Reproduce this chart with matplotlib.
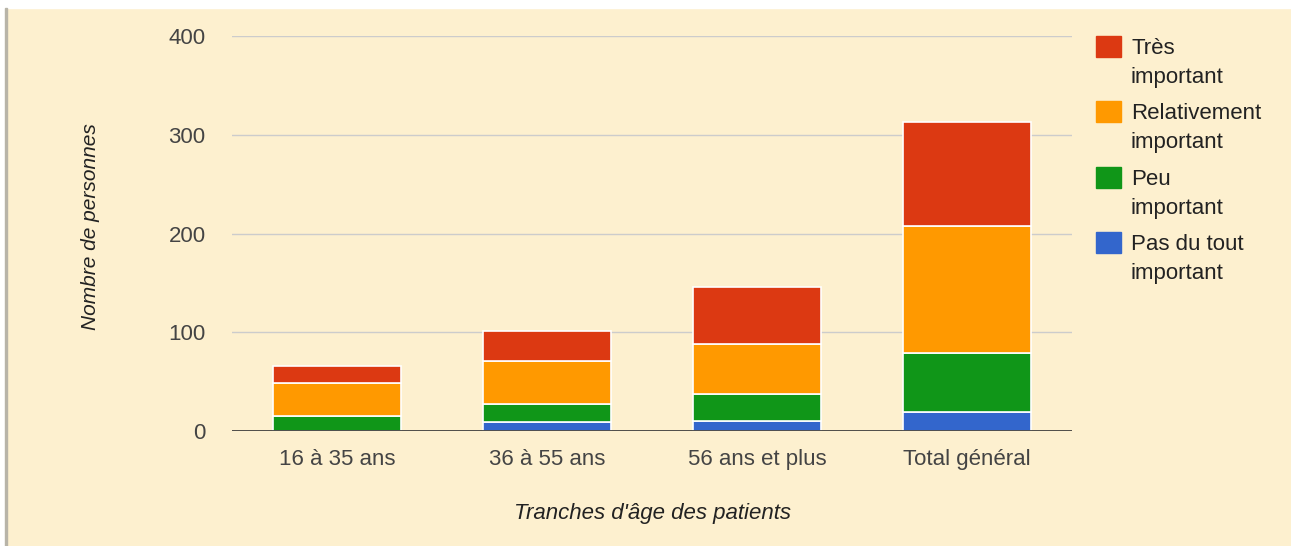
import matplotlib.pyplot as plt
from matplotlib.patches import Rectangle

plt.rcParams['font.family'] = ['Liberation Sans', 'DejaVu Sans']

# Données
categories = ['16 à 35 ans', '36 à 55 ans', '56 ans et plus', 'Total général']
pas_du_tout = [0, 9, 10, 19]
peu = [15, 18, 27, 60]
relativement = [34, 44, 51, 129]
tres = [17, 30, 58, 105]

series = [pas_du_tout, peu, relativement, tres]
labels = ['Pas du tout\nimportant', 'Peu\nimportant', 'Relativement\nimportant', 'Très\nimportant']
colors = ['#3366cc', '#109618', '#ff9900', '#dc3912']

W, H = 1291, 546
bg = '#fdf0cf'
fig = plt.figure(figsize=(W / 100, H / 100), dpi=100, facecolor=bg)

# bordure blanche en haut / à gauche, comme la capture d'origine
fig.patches.append(Rectangle((0, 1 - 8 / H), 1, 8 / H, transform=fig.transFigure,
                             color='white', zorder=0))
fig.patches.append(Rectangle((0, 0), 5 / W, 1, transform=fig.transFigure,
                             color='white', zorder=0))
fig.patches.append(Rectangle((5 / W, 0), 2 / W, 1 - 8 / H, transform=fig.transFigure,
                             color='#b8b4a8', zorder=0))

ax = fig.add_axes([232 / W, 1 - 431 / H, 840 / W, 395 / H])
ax.set_facecolor(bg)

x = range(len(categories))
bottom = [0] * len(categories)
for vals, lab, col in zip(series, labels, colors):
    ax.bar(x, vals, bottom=bottom, width=0.61, color=col, edgecolor='white',
           linewidth=1.2, label=lab, zorder=3)
    bottom = [b + v for b, v in zip(bottom, vals)]

ax.set_xlim(-0.5, 3.5)
ax.set_ylim(0, 400)
ax.set_yticks([0, 100, 200, 300, 400])
ax.set_xticks(list(x))
ax.set_xticklabels(categories)
ax.tick_params(length=0, labelsize=16, colors='#444444')
ax.tick_params(axis='x', pad=13)
ax.tick_params(axis='y', pad=19)
ax.grid(axis='y', color='#cccccc', linewidth=1, zorder=0)
ax.axhline(0, color='#333333', linewidth=1.2, zorder=4)
for s in ax.spines.values():
    s.set_visible(False)

fig.text(652 / W, 1 - 513 / H, "Tranches d'âge des patients", fontsize=16,
         style='italic', color='#222222', ha='center', va='center')
fig.text(90 / W, 1 - 227 / H, 'Nombre de personnes', fontsize=15, style='italic',
         color='#222222', ha='center', va='center', rotation=90)

# Légende manuelle (ordre inversé, comme dans l'original)
for i, (lab, col) in enumerate(zip(labels[::-1], colors[::-1])):
    top = 36 + i * 65.3
    fig.patches.append(Rectangle((1096 / W, 1 - (top + 21) / H), 25 / W, 21 / H,
                                 transform=fig.transFigure, color=col))
    for j, line in enumerate(lab.split('\n')):
        fig.text(1131 / W, 1 - (top + 18 + j * 29) / H, line, fontsize=16,
                 color='#222222', ha='left', va='baseline')

fig.savefig('out.png', dpi=100, facecolor=bg)
